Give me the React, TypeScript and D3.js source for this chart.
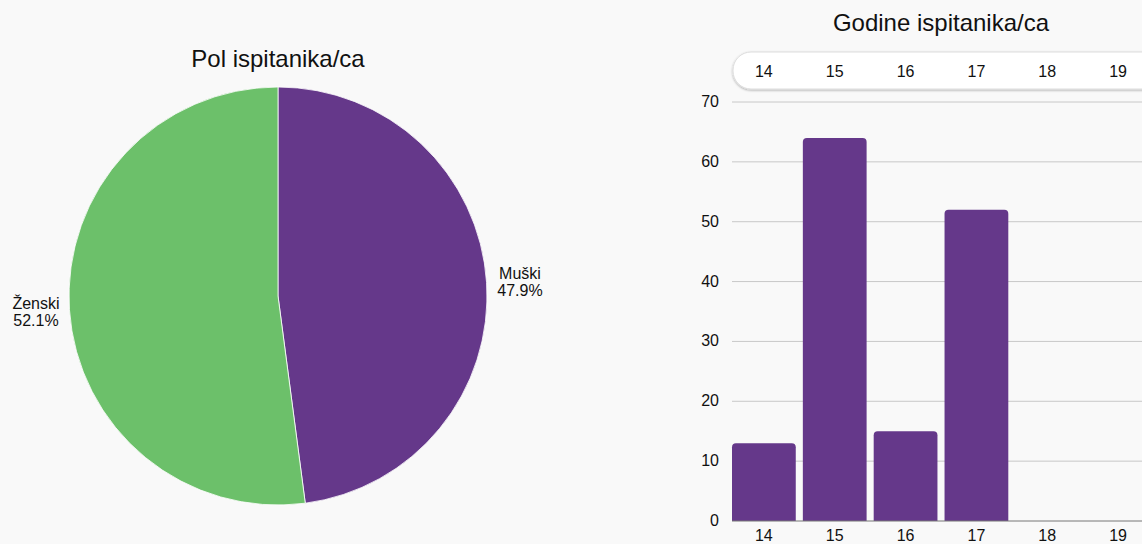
import React from "react";
import * as d3 from "d3";

const genderLabels = ["Muški", "Ženski"];
const genderValues = [69, 75];
const genderColors = ["#65388a", "#6cc06a"];

const ageCategories = ["14", "15", "16", "17", "18", "19"];
const ageValues = [13, 64, 15, 52, 0, 0];
const yTicks = [0, 10, 20, 30, 40, 50, 60, 70];

const W = 1142;
const H = 544;
const FONT = "Liberation Sans, Arial, Helvetica, sans-serif";

export default function App() {
  const cx = 278, cy = 296, r = 209;
  const total = d3.sum(genderValues);
  const pie = d3.pie<number>().sort(null).value((d) => d)(genderValues);
  const arc = d3.arc<d3.PieArcDatum<number>>().innerRadius(0).outerRadius(r);

  const x = d3.scaleBand<string>().domain(ageCategories).range([732, 1150]).paddingInner(0.1).paddingOuter(0);
  const y = d3.scaleLinear().domain([0, 70]).range([521, 102]);

  const labelPos = [
    { x: 520, y: 279 },
    { x: 36, y: 309 },
  ];

  return (
    <svg width={W} height={H} style={{ position: "absolute", left: 0, top: 0, background: "#f9f9f9" }} fontFamily={FONT}>
      <defs>
        <filter id="sh" x="-5%" y="-30%" width="110%" height="170%">
          <feDropShadow dx="0" dy="1" stdDeviation="1.2" floodColor="#000" floodOpacity="0.3" />
        </filter>
      </defs>
      <rect width={W} height={H} fill="#f9f9f9" />
      {/* Pie */}
      <text x={cx} y={67} textAnchor="middle" fontSize={24} fill="#111">Pol ispitanika/ca</text>
      <g transform={`translate(${cx},${cy})`}>
        {pie.map((p, i) => (
          <path key={i} d={arc(p) || ""} fill={genderColors[i]} stroke="#fff" strokeWidth={0.8} />
        ))}
      </g>
      {genderLabels.map((l, i) => (
        <text key={l} x={labelPos[i].x} y={labelPos[i].y} textAnchor="middle" fontSize={16} fill="#111">
          <tspan x={labelPos[i].x}>{l}</tspan>
          <tspan x={labelPos[i].x} dy={17}>{((genderValues[i] / total) * 100).toFixed(1)}%</tspan>
        </text>
      ))}
      {/* Bar chart */}
      <text x={941} y={31} textAnchor="middle" fontSize={24} fill="#111">Godine ispitanika/ca</text>
      <rect x={733} y={52} width={430} height={37} rx={18} fill="#fff" stroke="#ddd" filter="url(#sh)" />
      {ageCategories.map((c) => (
        <text key={"t" + c} x={(x(c) || 0) + x.bandwidth() / 2} y={77} textAnchor="middle" fontSize={16} fill="#111">{c}</text>
      ))}
      {yTicks.map((t) => (
        <g key={t}>
          {t > 0 && <line x1={732} x2={W} y1={y(t)} y2={y(t)} stroke="#c8c8c8" strokeWidth={1} />}
          <text x={719} y={y(t) + 5} textAnchor="end" fontSize={16} fill="#111">{t}</text>
        </g>
      ))}
      {ageValues.map((v, i) =>
        v > 0 ? (
          <path
            key={i}
            d={(() => {
              const x0 = x(ageCategories[i]) || 0;
              const w = x.bandwidth();
              const y0 = y(v);
              const y1 = y(0);
              const rr = 4;
              return `M${x0},${y1}V${y0 + rr}Q${x0},${y0} ${x0 + rr},${y0}H${x0 + w - rr}Q${x0 + w},${y0} ${x0 + w},${y0 + rr}V${y1}Z`;
            })()}
            fill="#65388a"
          />
        ) : null
      )}
      <line x1={732} x2={W} y1={y(0)} y2={y(0)} stroke="#777" strokeWidth={1} />
      {ageCategories.map((c) => (
        <text key={"b" + c} x={(x(c) || 0) + x.bandwidth() / 2} y={541} textAnchor="middle" fontSize={16} fill="#111">{c}</text>
      ))}
    </svg>
  );
}
